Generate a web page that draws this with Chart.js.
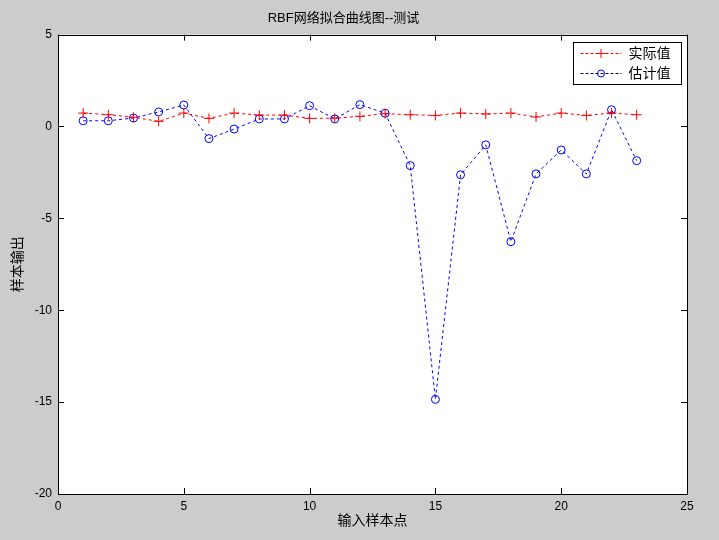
<!DOCTYPE html>
<html>
<head>
<meta charset="utf-8">
<script src="https://cdn.jsdelivr.net/npm/chart.js@4/dist/chart.umd.min.js"></script>
<style>
  html, body { margin: 0; padding: 0; background: #cccccc; }
  #wrap { width: 719px; height: 540px; }
</style>
</head>
<body>
<div id="wrap"><canvas id="mainChart" width="719" height="540"></canvas></div>
<script>
// sample index 1..23
var samples = [1,2,3,4,5,6,7,8,9,10,11,12,13,14,15,16,17,18,19,20,21,22,23];
// 实际值
var actual = [0.73,0.64,0.5,0.28,0.73,0.44,0.73,0.62,0.62,0.44,0.45,0.55,0.7,0.64,0.6,0.73,0.68,0.73,0.52,0.73,0.6,0.73,0.64];
// 估计值
var estimated = [0.31,0.31,0.46,0.79,1.17,-0.66,-0.14,0.41,0.41,1.13,0.41,1.19,0.72,-2.13,-14.85,-2.63,-1.0,-6.27,-2.58,-1.28,-2.58,0.91,-1.86];
var xTicks = [0,5,10,15,20,25];
var yTicks = [-20,-15,-10,-5,0,5];

var fontFamily = '"Liberation Sans", Arial, "Noto Sans CJK SC", sans-serif';

function toPoints(ys) {
  return samples.map(function (x, i) { return { x: x, y: ys[i] }; });
}

// white plot area, box, inward ticks, legend
var matlabAxes = {
  id: 'matlabAxes',
  beforeDraw: function (chart) {
    var a = chart.chartArea, ctx = chart.ctx;
    ctx.save();
    ctx.fillStyle = '#ffffff';
    ctx.fillRect(a.left, a.top, a.right - a.left, a.bottom - a.top);
    ctx.restore();
  },
  afterDatasetsDraw: function (chart) {
    var a = chart.chartArea, ctx = chart.ctx;
    var xs = chart.scales.x, ys = chart.scales.y;
    ctx.save();
    ctx.strokeStyle = '#000000';
    ctx.lineWidth = 1;
    ctx.beginPath();
    xTicks.forEach(function (t) {
      var px = Math.round(xs.getPixelForValue(t)) + 0.5;
      ctx.moveTo(px, a.bottom); ctx.lineTo(px, a.bottom - 6);
      ctx.moveTo(px, a.top); ctx.lineTo(px, a.top + 6);
    });
    yTicks.forEach(function (t) {
      var py = Math.round(ys.getPixelForValue(t)) + 0.5;
      ctx.moveTo(a.left, py); ctx.lineTo(a.left + 6, py);
      ctx.moveTo(a.right, py); ctx.lineTo(a.right - 6, py);
    });
    ctx.stroke();
    ctx.strokeRect(Math.round(a.left) + 0.5, Math.round(a.top) + 0.5,
      Math.round(a.right - a.left), Math.round(a.bottom - a.top));

    // legend box
    var lx = 573.5, ly = 42.5, lw = 108, lh = 42;
    ctx.fillStyle = '#ffffff';
    ctx.fillRect(lx, ly, lw, lh);
    ctx.strokeRect(lx, ly, lw, lh);
    ctx.font = '14px ' + fontFamily;
    ctx.textBaseline = 'middle';
    chart.data.datasets.forEach(function (ds, i) {
      var cy = ly + 11 + i * 20;
      ctx.strokeStyle = i === 0 ? ds.borderColor : '#000060';
      ctx.setLineDash([3, 2]);
      ctx.beginPath();
      ctx.moveTo(lx + 7, cy); ctx.lineTo(lx + 48, cy);
      ctx.stroke();
      ctx.setLineDash([]);
      ctx.strokeStyle = ds.pointBorderColor;
      ctx.beginPath();
      if (ds.pointStyle === 'cross') {
        ctx.moveTo(lx + 27.5 - 4.5, cy); ctx.lineTo(lx + 27.5 + 4.5, cy);
        ctx.moveTo(lx + 27.5, cy - 4.5); ctx.lineTo(lx + 27.5, cy + 4.5);
      } else {
        ctx.arc(lx + 27.5, cy, 3.5, 0, Math.PI * 2);
      }
      ctx.stroke();
      ctx.fillStyle = '#000000';
      ctx.fillText(ds.label, lx + 55, cy + 1);
    });
    ctx.restore();
  }
};

var chart = new Chart(document.getElementById('mainChart'), {
  type: 'scatter',
  data: {
    datasets: [{
      label: '实际值',
      data: toPoints(actual),
      showLine: true,
      borderColor: '#ff0000',
      borderWidth: 1,
      borderDash: [3, 3],
      pointStyle: 'cross',
      pointRadius: 5,
      pointBorderColor: '#ff0000',
      pointBorderWidth: 1,
      fill: false
    }, {
      label: '估计值',
      data: toPoints(estimated),
      showLine: true,
      borderColor: '#0000ff',
      borderWidth: 1,
      borderDash: [3, 3],
      pointStyle: 'circle',
      pointRadius: 4,
      pointBackgroundColor: 'rgba(0,0,0,0)',
      pointBorderColor: '#0000ff',
      pointBorderWidth: 1,
      fill: false
    }]
  },
  options: {
    responsive: false,
    animation: false,
    layout: { padding: { left: 0, right: 32, top: 0, bottom: 0 } },
    plugins: {
      legend: { display: false },
      tooltip: { enabled: false },
      title: {
        display: true,
        text: 'RBF网络拟合曲线图--测试',
        color: '#000000',
        font: { family: fontFamily, size: 13, weight: 'normal' },
        padding: { top: 11, bottom: 8 }
      }
    },
    scales: {
      x: {
        type: 'linear',
        min: 0, max: 25,
        afterBuildTicks: function (s) { s.ticks = xTicks.map(function (v) { return { value: v }; }); },
        afterFit: function (s) { s.height = 46; },
        grid: { display: false, drawTicks: false },
        border: { display: false },
        ticks: { color: '#000000', padding: 5, font: { family: fontFamily, size: 12 } },
        title: {
          display: true, text: '输入样本点', color: '#000000',
          font: { family: fontFamily, size: 14 }, padding: { top: 0, bottom: 10 }
        }
      },
      y: {
        type: 'linear',
        min: -20, max: 5,
        afterBuildTicks: function (s) { s.ticks = yTicks.map(function (v) { return { value: v }; }); },
        afterFit: function (s) { s.width = 58; },
        grid: { display: false, drawTicks: false },
        border: { display: false },
        ticks: { color: '#000000', padding: 6, font: { family: fontFamily, size: 12 } },
        title: {
          display: true, text: '样本输出', color: '#000000',
          font: { family: fontFamily, size: 14 }, padding: { top: 10, bottom: 0 }
        }
      }
    }
  },
  plugins: [matlabAxes]
});
</script>
</body>
</html>
